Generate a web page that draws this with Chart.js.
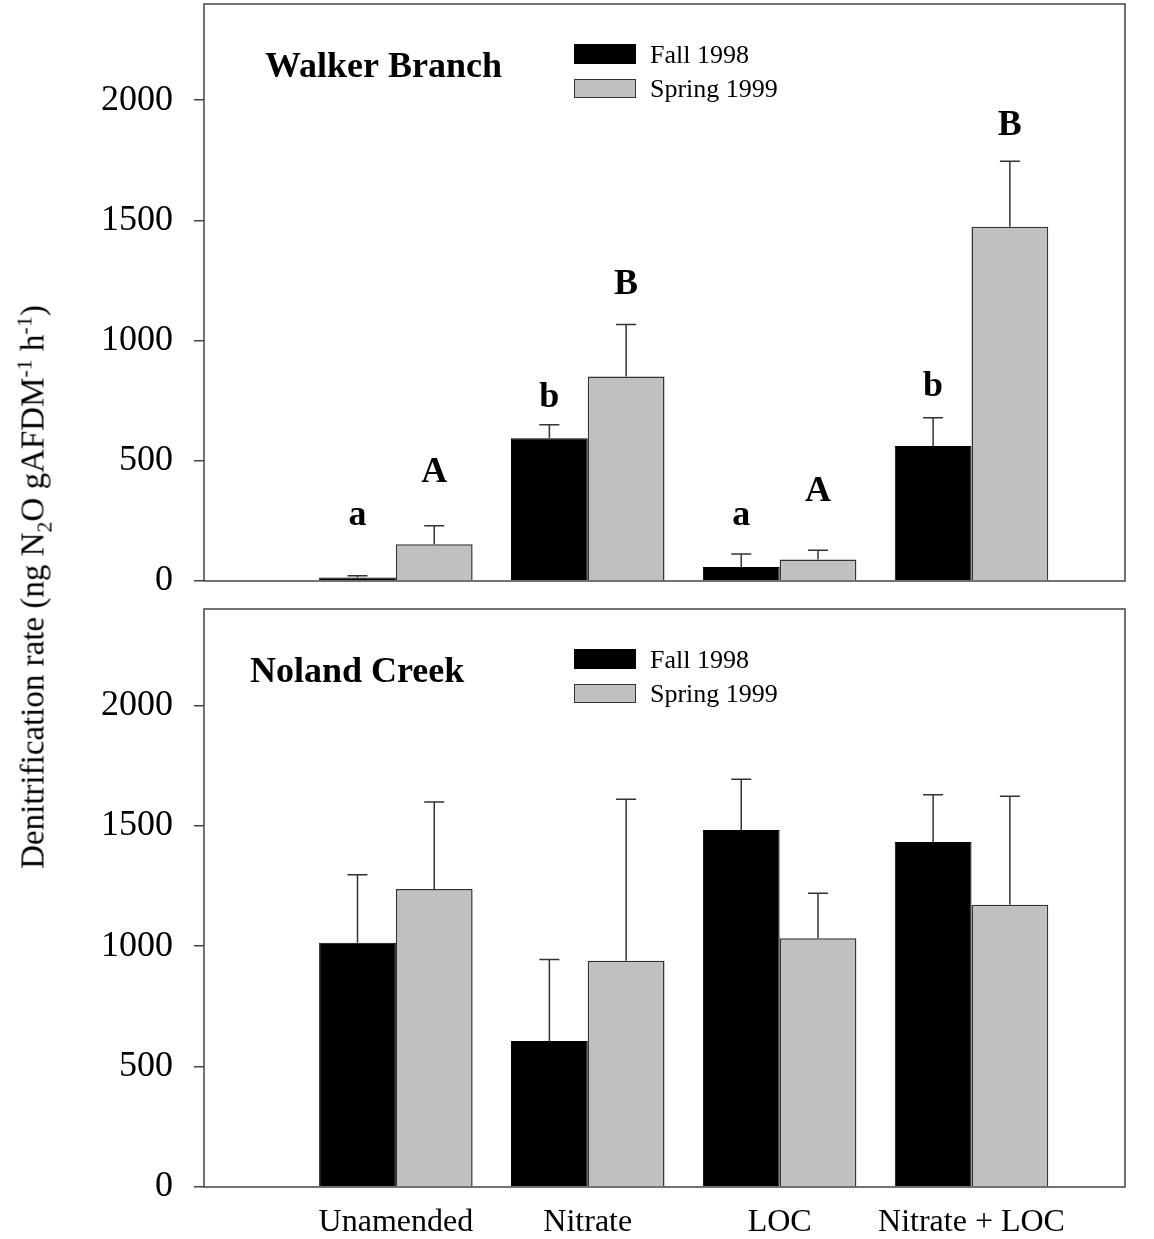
<!DOCTYPE html>
<html>
<head>
<meta charset="utf-8">
<script src="https://cdn.jsdelivr.net/npm/chart.js@4.4.1/dist/chart.umd.min.js"></script>
<style>
body { margin: 0; background: #fff; }
#wrap { position: relative; width: 1154px; height: 1239px; font-family: 'Liberation Serif', 'Times New Roman', serif; }
canvas { position: absolute; left: 0; }
#top { top: 0; }
#bottom { top: 600px; }
#ytitle { position: absolute; left: 33px; top: 587px; transform: translate(-50%, -50%) rotate(-90deg);
    font-size: 33px; line-height: 1; white-space: nowrap; color: #000; }
#ytitle sub, #ytitle sup { font-size: 22px; line-height: 0; }
</style>
</head>
<body>
<div id="wrap">
    <canvas id="top" width="1154" height="600"></canvas>
    <canvas id="bottom" width="1154" height="639"></canvas>
    <div id="ytitle">Denitrification rate (ng N<sub>2</sub>O gAFDM<sup>-1</sup> h<sup>-1</sup>)</div>
</div>
<script>
const categories = ['Unamended', 'Nitrate', 'LOC', 'Nitrate + LOC'];
const categoryPos = [1, 2, 3, 4];
const seriesNames = ['Fall 1998', 'Spring 1999'];
const yTicks = [0, 500, 1000, 1500, 2000];

const walkerFall = [15, 594, 58, 562];
const walkerFallErr = [7, 56, 54, 117];
const walkerSpring = [153, 851, 89, 1474];
const walkerSpringErr = [77, 216, 39, 272];
const walkerFallLetters = ['a', 'b', 'a', 'b'];
const walkerFallLetterAt = [233, 725, 233, 771];
const walkerSpringLetters = ['A', 'B', 'A', 'B'];
const walkerSpringLetterAt = [412, 1192, 333, 1855];

const nolandFall = [1014, 606, 1482, 1433];
const nolandFallErr = [283, 339, 211, 196];
const nolandSpring = [1237, 939, 1033, 1172];
const nolandSpringErr = [362, 671, 187, 450];

const SERIF = "'Liberation Serif', 'Times New Roman', serif";
const GRAY = '#c0c0c0';
const LINE = '#333';

const toPoints = (values) => values.map((v, i) => ({x: categoryPos[i], y: v}));

// error bars + significance letters, drawn over the bars
const barExtras = {
    id: 'barExtras',
    afterDatasetsDraw(chart) {
        const ctx = chart.ctx;
        const yScale = chart.scales.y;
        chart.data.datasets.forEach((ds, d) => {
            const meta = chart.getDatasetMeta(d);
            meta.data.forEach((bar, i) => {
                const top = yScale.getPixelForValue(ds.data[i].y + ds.errors[i]);
                ctx.save();
                ctx.strokeStyle = LINE;
                ctx.lineWidth = 1.5;
                ctx.beginPath();
                ctx.moveTo(bar.x, bar.y);
                ctx.lineTo(bar.x, top);
                ctx.moveTo(bar.x - 10, top);
                ctx.lineTo(bar.x + 10, top);
                ctx.stroke();
                if (ds.letters) {
                    ctx.fillStyle = '#000';
                    ctx.font = 'bold 36px ' + SERIF;
                    ctx.textAlign = 'center';
                    ctx.textBaseline = 'alphabetic';
                    ctx.fillText(ds.letters[i], bar.x, yScale.getPixelForValue(ds.letterAt[i]));
                }
                ctx.restore();
            });
        });
    }
};

// box around the plot, panel title and legend
const panelDecor = {
    id: 'panelDecor',
    afterDraw(chart) {
        const ctx = chart.ctx;
        const a = chart.chartArea;
        const cfg = chart.config.options.panel;
        ctx.save();
        ctx.strokeStyle = '#444';
        ctx.lineWidth = 1.5;
        ctx.strokeRect(a.left, a.top, a.right - a.left, a.bottom - a.top);

        ctx.fillStyle = '#000';
        ctx.font = 'bold 36px ' + SERIF;
        ctx.textAlign = 'left';
        ctx.textBaseline = 'alphabetic';
        ctx.fillText(cfg.title, cfg.titleX, a.top + 73);

        const lx = 574;
        ctx.fillStyle = '#000';
        ctx.fillRect(lx, a.top + 40, 62, 20);
        ctx.fillStyle = GRAY;
        ctx.fillRect(lx, a.top + 75, 62, 19);
        ctx.lineWidth = 1;
        ctx.strokeStyle = LINE;
        ctx.strokeRect(lx + 0.5, a.top + 75.5, 61, 18);
        ctx.fillStyle = '#000';
        ctx.font = '26px ' + SERIF;
        ctx.fillText(seriesNames[0], 650, a.top + 59);
        ctx.fillText(seriesNames[1], 650, a.top + 93);
        ctx.restore();
    }
};

const makePanel = (canvasId, opts) => {
    const showLabels = opts.showLabels;
    return new Chart(document.getElementById(canvasId), {
        type: 'bar',
        data: {
            datasets: [{
                label: seriesNames[0],
                data: toPoints(opts.fall),
                errors: opts.fallErr,
                letters: opts.fallLetters,
                letterAt: opts.fallLetterAt,
                backgroundColor: '#000',
                borderColor: '#000',
                borderWidth: 1
            }, {
                label: seriesNames[1],
                data: toPoints(opts.spring),
                errors: opts.springErr,
                letters: opts.springLetters,
                letterAt: opts.springLetterAt,
                backgroundColor: GRAY,
                borderColor: LINE,
                borderWidth: 1.5
            }]
        },
        options: {
            responsive: false,
            animation: false,
            devicePixelRatio: 1,
            categoryPercentage: 0.8,
            barPercentage: 1.0,
            panel: {title: opts.title, titleX: opts.titleX},
            layout: {padding: opts.padding},
            plugins: {legend: {display: false}, tooltip: {enabled: false}},
            scales: {
                x: {
                    type: 'linear',
                    offset: false,
                    min: 0,
                    max: 4.8,
                    display: showLabels,
                    grid: {display: false, drawTicks: false, offset: false},
                    border: {display: false},
                    afterBuildTicks: (scale) => {
                        scale.ticks = categoryPos.map(v => ({value: v}));
                    },
                    afterFit: (scale) => {
                        scale.height = opts.xHeight;
                        scale.paddingLeft = 0;
                        scale.paddingRight = 0;
                    },
                    ticks: {
                        padding: 16,
                        color: '#000',
                        font: {family: SERIF, size: 32},
                        callback: (value) => categories[categoryPos.indexOf(value)] || ''
                    }
                },
                y: {
                    min: 0,
                    max: 2400,
                    afterBuildTicks: (scale) => {
                        scale.ticks = yTicks.map(v => ({value: v}));
                    },
                    afterFit: (scale) => {
                        scale.width = 204;
                        scale.paddingTop = 0;
                        scale.paddingBottom = 0;
                    },
                    grid: {drawOnChartArea: false, drawTicks: true, tickLength: 10, color: '#444', lineWidth: 1.5},
                    border: {display: false},
                    ticks: {
                        padding: 21,
                        color: '#000',
                        font: {family: SERIF, size: 36},
                        callback: (value) => String(value)
                    }
                }
            }
        },
        plugins: [barExtras, panelDecor]
    });
};

makePanel('top', {
    title: 'Walker Branch', titleX: 265,
    fall: walkerFall, fallErr: walkerFallErr, fallLetters: walkerFallLetters, fallLetterAt: walkerFallLetterAt,
    spring: walkerSpring, springErr: walkerSpringErr, springLetters: walkerSpringLetters, springLetterAt: walkerSpringLetterAt,
    padding: {top: 4, right: 29, bottom: 19, left: 0},
    showLabels: false, xHeight: 0
});

makePanel('bottom', {
    title: 'Noland Creek', titleX: 250,
    fall: nolandFall, fallErr: nolandFallErr,
    spring: nolandSpring, springErr: nolandSpringErr,
    padding: {top: 9, right: 29, bottom: 0, left: 0},
    showLabels: true, xHeight: 52
});
</script>
</body>
</html>
